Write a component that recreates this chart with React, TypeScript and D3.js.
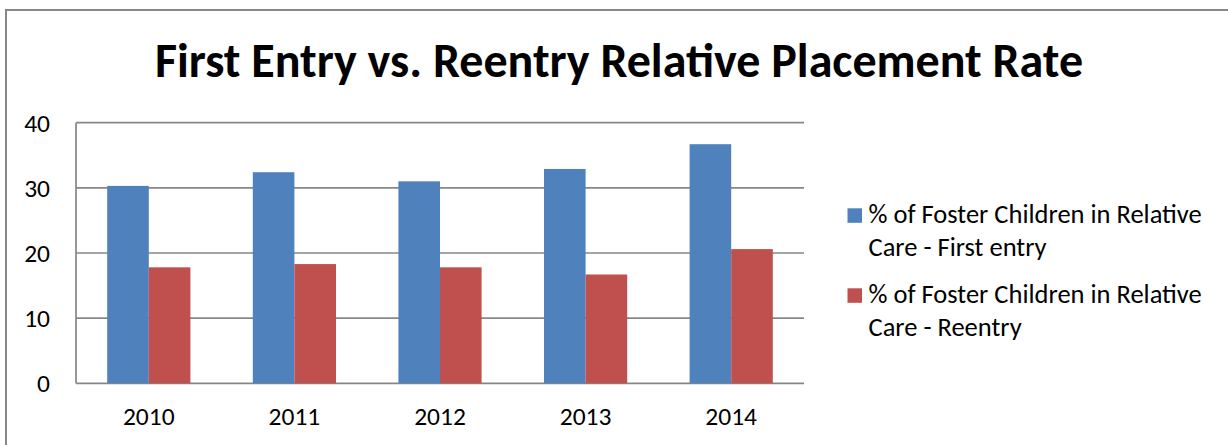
import React, { useEffect } from "react";
import * as d3 from "d3";

const years = ["2010", "2011", "2012", "2013", "2014"];
const firstEntry = [30.3, 32.4, 31.0, 32.9, 36.7];
const reentry = [17.8, 18.3, 17.8, 16.7, 20.6];
const seriesNames = [
  ["% of Foster Children in Relative", "Care - First entry"],
  ["% of Foster Children in Relative", "Care - Reentry"],
];
const seriesColors = ["#4F81BD", "#C0504D"];
const yTicks = [0, 10, 20, 30, 40];
const title = "First Entry vs. Reentry Relative Placement Rate";

const W = 1228;
const H = 445;
const FONT = "Carlito, Calibri, Lato, sans-serif";

export default function App() {
  useEffect(() => {
    document.body.style.margin = "0";
  }, []);

  const plot = { left: 76, right: 804, top: 122.7, bottom: 383.3 };
  const x0 = d3.scaleBand<string>().domain(years).range([plot.left, plot.right]).paddingInner(0).paddingOuter(0);
  const x1 = d3
    .scaleBand<string>()
    .domain(["a", "b"])
    .range([0, x0.bandwidth()])
    .paddingInner(0)
    .paddingOuter(0.75);
  const y = d3.scaleLinear().domain([0, 40]).range([plot.bottom, plot.top]);
  const series = [firstEntry, reentry];
  const keys = ["a", "b"];

  return (
    <svg width={W} height={H} style={{ position: "absolute", left: 0, top: 0, display: "block" }} fontFamily={FONT}>
      <rect x={0} y={0} width={W} height={H} fill="#fff" />
      <rect x={6} y={10} width={1260} height={500} fill="#fff" stroke="#878787" strokeWidth={2} />
      <text x={619} y={77} textAnchor="middle" fontSize={48} fontWeight="bold" fill="#000">
        {title}
      </text>
      {yTicks.map((t) => (
        <g key={t}>
          <line x1={plot.left} x2={plot.right} y1={y(t)} y2={y(t)} stroke="#878787" strokeWidth={1.7} />
          <text x={50} y={y(t)} dy="0.35em" textAnchor="end" fontSize={25.5} fill="#000">
            {t}
          </text>
        </g>
      ))}
      <line x1={plot.left} x2={plot.left} y1={plot.top} y2={plot.bottom} stroke="#878787" strokeWidth={1.7} />
      {years.map((yr, i) => (
        <g key={yr}>
          {series.map((s, j) => (
            <rect
              key={j}
              x={(x0(yr) as number) + (x1(keys[j]) as number)}
              y={y(s[i])}
              width={x1.bandwidth()}
              height={y(0) - y(s[i])}
              fill={seriesColors[j]}
            />
          ))}
          <text x={(x0(yr) as number) + x0.bandwidth() / 2} y={425} textAnchor="middle" fontSize={25.5} fill="#000">
            {yr}
          </text>
        </g>
      ))}
      {seriesNames.map((lines, j) => {
        const base = j === 0 ? 223.3 : 303.3;
        return (
          <g key={j}>
            <rect x={847.5} y={base - 15} width={14.5} height={14.5} fill={seriesColors[j]} />
            {lines.map((ln, k) => (
              <text key={k} x={868.5} y={base + k * 33} fontSize={26.5} fill="#000">
                {ln}
              </text>
            ))}
          </g>
        );
      })}
    </svg>
  );
}
